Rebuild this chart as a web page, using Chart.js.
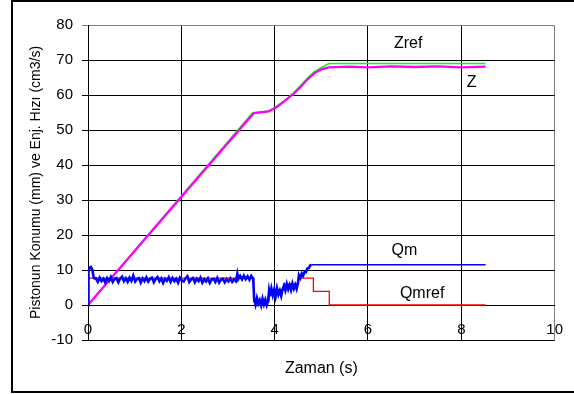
<!DOCTYPE html>
<html>
<head>
<meta charset="utf-8">
<script src="https://cdn.jsdelivr.net/npm/chart.js@4"></script>
<style>
  html, body { margin: 0; padding: 0; background: #fff; overflow: hidden; }
  #wrap { position: relative; width: 574px; height: 394px; }
  #chart { position: absolute; left: 0; top: 0; }
  #frame { position: absolute; left: 11px; top: 0; width: 620px; height: 393px; box-sizing: border-box; border: 2px solid #000; pointer-events: none; }
</style>
</head>
<body>
<div id="wrap">
  <canvas id="chart" width="574" height="394"></canvas>
  <div id="frame"></div>
</div>
<script>
// piston position: reference and measured
const zrefTime = [0, 3.52, 3.87, 4.02, 4.2, 4.4, 4.55, 4.7, 4.85, 5.0, 5.16, 8.52];
const zrefValue = [0, 54.8, 55.4, 56.6, 58.3, 60.5, 62.6, 64.8, 66.7, 67.8, 69.0, 69.0];

const zTime = [0, 3.55, 3.87, 4.03, 4.2, 4.4, 4.56, 4.72, 4.87, 5.0, 5.16, 5.6, 6.0, 6.5, 7.0, 7.5, 8.0, 8.52];
const zValue = [0, 54.8, 55.3, 56.4, 58.1, 60.3, 62.4, 64.7, 66.4, 67.3, 67.9, 68.1, 67.9, 68.2, 68.0, 68.2, 67.9, 68.1];

// injection speed reference (stepped)
const qmrefTime = [0, 3.55, 3.88, 4.19, 4.51, 4.83, 5.17, 8.52];
const qmrefValue = [7.7, 1.0, 4.4, 6.0, 7.7, 3.9, 0, 0];

// measured injection speed (noisy)
const qmTime = [
  0, 0.01, 0.03, 0.06, 0.09, 0.12, 0.14,
  0.17, 0.21, 0.25, 0.29, 0.33, 0.37, 0.41, 0.45, 0.49, 0.53, 0.57, 0.61, 0.65, 0.69, 0.73, 0.77,
  0.81, 0.85, 0.89, 0.93, 0.97, 1.01, 1.05, 1.09, 1.13, 1.17, 1.21, 1.25, 1.29, 1.33, 1.37, 1.41,
  1.45, 1.49, 1.53, 1.57, 1.61, 1.65, 1.69, 1.73, 1.77, 1.81, 1.85, 1.89, 1.93, 1.97, 2.01, 2.05,
  2.09, 2.13, 2.17, 2.21, 2.25, 2.29, 2.33, 2.37, 2.41, 2.45, 2.49, 2.53, 2.57, 2.61, 2.65, 2.69,
  2.73, 2.77, 2.81, 2.85, 2.89, 2.93, 2.97, 3.01, 3.05, 3.09, 3.13, 3.17,
  3.2, 3.22, 3.26, 3.3, 3.34, 3.38, 3.42, 3.46, 3.5, 3.54,
  3.56, 3.59, 3.62, 3.65, 3.68, 3.71, 3.74, 3.77, 3.8, 3.83, 3.86,
  3.88, 3.9, 3.93, 3.96, 3.99, 4.02, 4.05, 4.08, 4.11, 4.14, 4.17,
  4.2, 4.23, 4.26, 4.29, 4.32, 4.35, 4.38, 4.41, 4.44, 4.47, 4.5,
  4.52, 4.55, 4.58, 4.61, 4.64, 4.67, 4.7, 4.73, 4.76, 4.79, 8.52
];
const qmValue = [
  0, 9.5, 10.6, 10.9, 10.2, 8.0, 7.6,
  7.6, 6.6, 7.8, 6.8, 7.5, 6.4, 7.7, 6.9, 8.0, 6.6, 7.4, 7.7, 6.5, 7.5, 8.1, 6.8,
  7.6, 6.6, 7.8, 6.9, 8.4, 6.7, 7.4, 7.7, 6.4, 7.6, 6.8, 7.9, 6.7, 7.5, 7.8, 6.5,
  7.4, 8.0, 6.8, 7.6, 6.3, 7.5, 6.9, 7.9, 6.6, 7.7, 6.8, 7.5, 6.4, 7.8, 7.0, 6.7,
  7.6, 8.2, 6.6, 7.3, 7.7, 6.5, 7.5, 6.8, 7.8, 6.4, 7.4, 6.7, 7.6, 6.3, 7.3, 7.5,
  6.6, 7.7, 6.4, 7.2, 7.5, 6.5, 7.4, 6.7, 7.6, 6.6, 7.3, 6.8,
  8.9, 7.4, 8.3, 7.3, 8.4, 7.4, 8.2, 7.2, 8.3, 7.5,
  1.7, 0.1, 2.0, 0.4, 1.4, -0.1, 1.8, 0.2, 1.5, 0.0, 1.3,
  4.1, 2.5, 4.7, 2.8, 4.4, 2.4, 4.8, 3.0, 4.1, 2.6, 4.5,
  5.5, 4.2, 6.0, 4.5, 5.7, 4.3, 6.1, 4.7, 5.8, 4.6, 6.4,
  8.5, 7.7, 9.0, 8.4, 9.5, 9.4, 10.4, 10.5, 11.3, 11.5, 11.5
];

const yTicksMin = -10, yTicksMax = 80, yStep = 10;
const xTicksMin = 0, xTicksMax = 10, xStep = 2;

const curveLabels = [
  { text: "Zref", x: 6.86, y: 74.6 },
  { text: "Z", x: 8.22, y: 63.6 },
  { text: "Qm", x: 6.78, y: 15.6 },
  { text: "Qmref", x: 7.16, y: 3.4 },
];

const FONT = "'Liberation Sans', Arial, sans-serif";

function pts(xs, ys) {
  return xs.map((x, i) => ({ x, y: ys[i] }));
}

// text next to each curve, placed in data coordinates
const curveLabelPlugin = {
  id: "curveLabels",
  afterDatasetsDraw(chart) {
    const { ctx, scales: { x, y } } = chart;
    ctx.save();
    ctx.font = "16px " + FONT;
    ctx.fillStyle = "#000";
    ctx.textAlign = "center";
    ctx.textBaseline = "middle";
    curveLabels.forEach(l => {
      ctx.fillText(l.text, x.getPixelForValue(l.x), y.getPixelForValue(l.y));
    });
    ctx.restore();
  }
};

new Chart(document.getElementById("chart"), {
  type: "line",
  data: {
    datasets: [
      {
        label: "Qm", data: pts(qmTime, qmValue), borderColor: "#0000ff", borderWidth: 2.6, pointRadius: 0, tension: 0,
        // the long flat tail is a thin line, the noisy part is a thick band
        segment: { borderWidth: c => (c.p1DataIndex === qmTime.length - 1 ? 1.5 : 2.6) }
      },
      { label: "Qmref", data: pts(qmrefTime, qmrefValue), borderColor: "#ff0000", borderWidth: 1.3, pointRadius: 0, stepped: true },
      { label: "Z", data: pts(zTime, zValue), borderColor: "#ff00ff", borderWidth: 2.3, pointRadius: 0, tension: 0 },
      { label: "Zref", data: pts(zrefTime, zrefValue), borderColor: "#00ff00", borderWidth: 1.6, pointRadius: 0, tension: 0 },
    ]
  },
  options: {
    responsive: false,
    animation: false,
    devicePixelRatio: 1,
    layout: { padding: { left: 12, top: 25, right: 19, bottom: 14 } },
    plugins: { legend: { display: false }, tooltip: { enabled: false } },
    scales: {
      x: {
        type: "linear",
        position: { y: 0 },
        min: xTicksMin, max: xTicksMax,
        afterFit: s => { s.height = 0; },
        ticks: { stepSize: xStep, color: "#000", padding: 11, font: { family: FONT, size: 15 } },
        grid: {
          color: c => (c.tick && c.tick.value === xTicksMax ? "#808080" : "#000"),
          lineWidth: 1, drawTicks: true, tickLength: 5
        },
        border: { display: true, color: "#000", width: 1 }
      },
      x2: {
        type: "linear",
        position: "bottom",
        min: xTicksMin, max: xTicksMax,
        afterFit: s => { s.height = 40; },
        ticks: { display: false },
        grid: { display: false },
        border: { display: false },
        title: { display: true, text: "Zaman (s)", color: "#000", padding: { top: 0, bottom: 2 }, font: { family: FONT, size: 16 } }
      },
      y: {
        type: "linear",
        position: "left",
        min: yTicksMin, max: yTicksMax,
        afterFit: s => { s.width = 76; },
        ticks: { stepSize: yStep, color: "#000", padding: 9, font: { family: FONT, size: 15 } },
        grid: {
          color: c => (c.tick && c.tick.value === yTicksMax ? "#808080" : "#000"),
          lineWidth: 1, drawTicks: true, tickLength: 6
        },
        border: { display: true, color: "#000", width: 1 },
        title: {
          display: true, text: "Pistonun Konumu (mm) ve Enj. Hızı (cm3/s)", color: "#000",
          padding: { top: 16, bottom: 0 }, font: { family: FONT, size: 14 }
        }
      }
    }
  },
  plugins: [curveLabelPlugin]
});
</script>
</body>
</html>
